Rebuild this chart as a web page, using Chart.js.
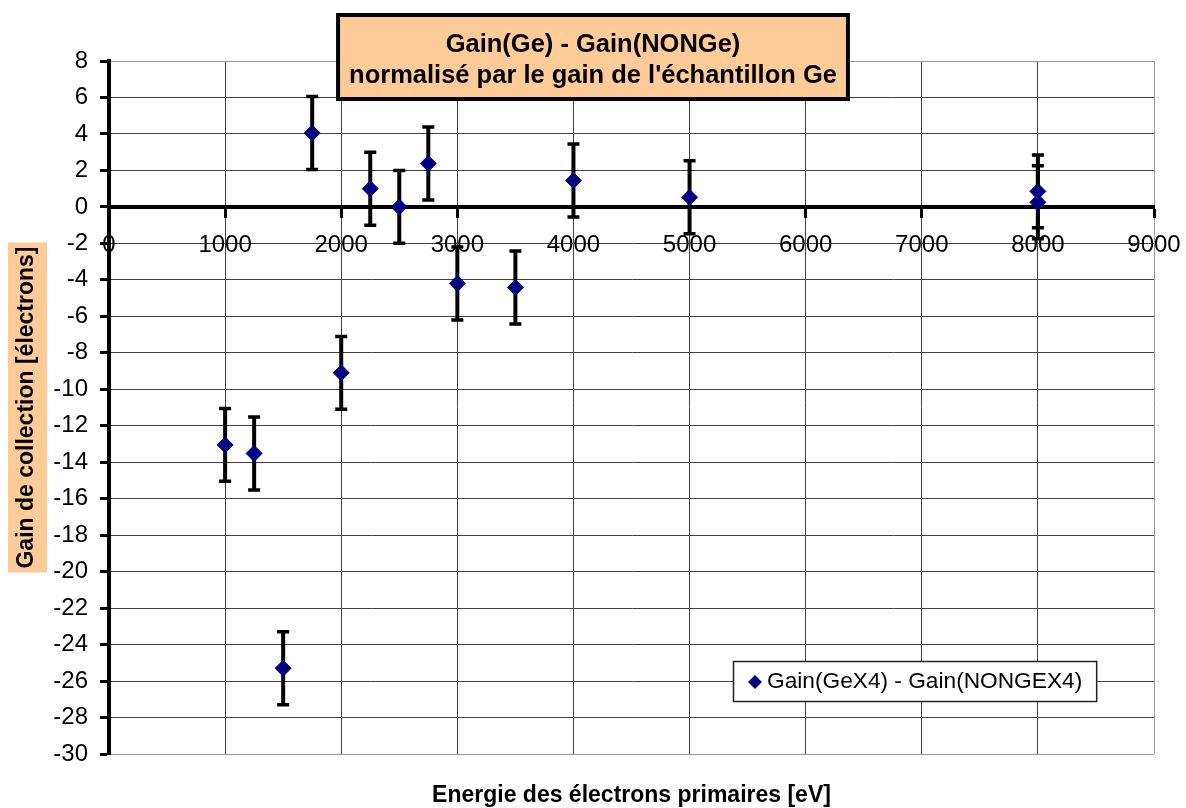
<!DOCTYPE html>
<html>
<head>
<meta charset="utf-8">
<script src="https://cdn.jsdelivr.net/npm/chart.js@4.4.1/dist/chart.umd.min.js"></script>
<style>
  html, body { margin: 0; padding: 0; background: #ffffff; }
  #wrap { width: 1186px; height: 808px; position: relative; }
</style>
</head>
<body>
<div id="wrap"><canvas id="c" width="1186" height="808"></canvas></div>
<script>
// ---- data ----
const energies = [1000, 1250, 1500, 1750, 2000, 2250, 2500, 2750, 3000, 3500, 4000, 5000, 8000, 8000];
const gainDiff = [-13.05, -13.52, -25.3, 4.05, -9.1, 1.0, 0.0, 2.38, -4.2, -4.42, 1.45, 0.53, 0.85, 0.25];
const errors   = [2, 2, 2, 2, 2, 2, 2, 2, 2, 2, 2, 2, 2, 2];
const seriesLabel = 'Gain(GeX4) - Gain(NONGEX4)';
const titleLines = ['Gain(Ge) - Gain(NONGe)', "normalisé par le gain de l'échantillon Ge"];
const xTitle = 'Energie des électrons primaires [eV]';
const yTitle = 'Gain de collection [électrons]';
const xMin = 0, xMax = 9000, xStep = 1000;
const yMin = -30, yMax = 8, yStep = 2;

const FONT = '"Liberation Sans", Arial, Helvetica, sans-serif';
const ORANGE = '#FFCC99';
const NAVY = '#000080';

const points = energies.map((e, i) => ({ x: e, y: gainDiff[i], err: errors[i] }));

// error bars drawn beneath the markers
const errorBars = {
  id: 'errorBars',
  beforeDatasetsDraw(chart) {
    const ctx = chart.ctx, xs = chart.scales.x, ys = chart.scales.y;
    ctx.save();
    ctx.strokeStyle = '#000';
    chart.data.datasets[0].data.forEach(p => {
      const px = xs.getPixelForValue(p.x);
      const top = ys.getPixelForValue(p.y + p.err);
      const bot = ys.getPixelForValue(p.y - p.err);
      ctx.lineWidth = 4;
      ctx.beginPath(); ctx.moveTo(px, top); ctx.lineTo(px, bot); ctx.stroke();
      ctx.lineWidth = 3.5;
      ctx.beginPath();
      ctx.moveTo(px - 6, top); ctx.lineTo(px + 6, top);
      ctx.moveTo(px - 6, bot); ctx.lineTo(px + 6, bot);
      ctx.stroke();
    });
    ctx.restore();
  }
};

// orange background behind the y axis title
const yTitleBg = {
  id: 'yTitleBg',
  beforeDraw(chart) {
    const ctx = chart.ctx, ca = chart.chartArea;
    ctx.save();
    ctx.font = 'bold 23px ' + FONT;
    const w = ctx.measureText(yTitle).width;
    const cy = (ca.top + ca.bottom) / 2;
    ctx.fillStyle = ORANGE;
    ctx.fillRect(8, cy - w / 2 - 4, 39, w + 8);
    ctx.restore();
  }
};

// boxed chart title and in-plot legend
const boxes = {
  id: 'boxes',
  afterDraw(chart) {
    const ctx = chart.ctx;
    ctx.save();
    // title box
    ctx.font = 'bold 25.5px ' + FONT;
    const tw = Math.max(...titleLines.map(t => ctx.measureText(t).width));
    const cx = 593;
    const bw = tw + 22, bx = cx - bw / 2, by = 15, bh = 84;
    ctx.fillStyle = ORANGE;
    ctx.fillRect(bx, by, bw, bh);
    ctx.lineWidth = 4;
    ctx.strokeStyle = '#000';
    ctx.strokeRect(bx, by, bw, bh);
    ctx.fillStyle = '#000';
    ctx.textAlign = 'center';
    ctx.textBaseline = 'middle';
    ctx.fillText(titleLines[0], cx, 45);
    ctx.fillText(titleLines[1], cx, 76);

    // legend
    const label = chart.data.datasets[0].label;
    ctx.font = '22.7px ' + FONT;
    const lw = ctx.measureText(label).width;
    const lx = 733, ly = 661, lh = 40;
    const lbw = lw + 48;
    ctx.fillStyle = '#fff';
    ctx.fillRect(lx, ly, lbw, lh);
    ctx.lineWidth = 1.5;
    ctx.strokeStyle = '#222';
    ctx.strokeRect(lx + 0.5, ly + 0.5, lbw, lh);
    const mx = lx + 22, my = ly + lh / 2 + 1;
    ctx.fillStyle = NAVY;
    ctx.beginPath();
    ctx.moveTo(mx, my - 7); ctx.lineTo(mx + 7, my); ctx.lineTo(mx, my + 7); ctx.lineTo(mx - 7, my);
    ctx.closePath(); ctx.fill();
    ctx.fillStyle = '#000';
    ctx.textAlign = 'left';
    ctx.textBaseline = 'middle';
    ctx.fillText(label, lx + 34, my);
    ctx.restore();
  }
};

const edgeGrid = '#9a9a9a', innerGrid = '#404040';

new Chart(document.getElementById('c'), {
  type: 'scatter',
  data: {
    datasets: [{
      label: seriesLabel,
      data: points,
      pointStyle: 'rectRot',
      pointRadius: 8,
      pointHoverRadius: 8,
      backgroundColor: NAVY,
      borderColor: NAVY,
      borderWidth: 1,
      showLine: false
    }]
  },
  options: {
    responsive: false,
    animation: false,
    events: [],
    layout: { padding: { top: 61, right: 32, left: 0, bottom: 0 } },
    scales: {
      x: {
        type: 'linear',
        position: { y: 0 },
        min: xMin, max: xMax,
        afterFit(scale) { scale.height = 0; scale.paddingLeft = 0; scale.paddingRight = 0; },
        ticks: {
          stepSize: xStep,
          color: '#000',
          padding: 15,
          maxRotation: 0,
          font: { family: FONT, size: 24 },
          callback: v => String(v)
        },
        grid: {
          color: ctx => (ctx.tick && ctx.tick.value === xMax) ? edgeGrid : innerGrid,
          lineWidth: 1,
          tickColor: '#000',
          tickWidth: 3,
          tickLength: 9,
          drawOnChartArea: true
        },
        border: { display: true, color: '#000', width: 4 }
      },
      y: {
        type: 'linear',
        position: 'left',
        min: yMin, max: yMax,
        afterFit(scale) { scale.width = 109; },
        ticks: {
          stepSize: yStep,
          color: '#000',
          padding: 12,
          font: { family: FONT, size: 24 }
        },
        grid: {
          color: ctx => (ctx.tick && (ctx.tick.value === yMax || ctx.tick.value === yMin)) ? edgeGrid : innerGrid,
          lineWidth: 1,
          tickColor: '#000',
          tickWidth: 3,
          tickLength: 9
        },
        border: { display: true, color: '#000', width: 4 },
        title: {
          display: true,
          text: yTitle,
          color: '#000',
          font: { family: FONT, size: 23, weight: 'bold', lineHeight: 1.2 },
          padding: { top: 13, bottom: 0 }
        }
      }
    },
    plugins: {
      legend: { display: false },
      tooltip: { enabled: false },
      title: { display: false },
      subtitle: {
        display: true,
        position: 'bottom',
        fullSize: false,
        text: xTitle,
        color: '#000',
        font: { family: FONT, size: 23, weight: 'bold', lineHeight: 1.0 },
        padding: { top: 30.5, bottom: 0.5 }
      }
    }
  },
  plugins: [yTitleBg, errorBars, boxes]
});
</script>
</body>
</html>
